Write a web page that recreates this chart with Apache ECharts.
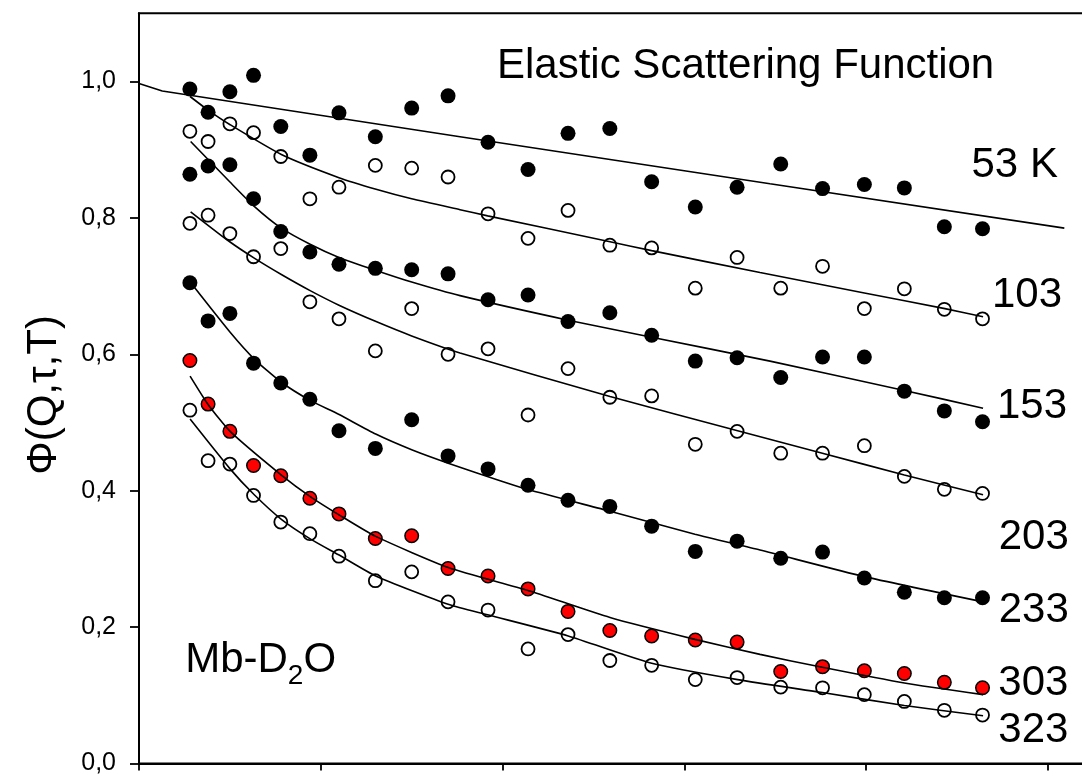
<!DOCTYPE html>
<html>
<head>
<meta charset="utf-8">
<script src="https://cdn.jsdelivr.net/npm/echarts@6/dist/echarts.min.js"></script>
<style>
  html, body { margin: 0; padding: 0; overflow: hidden; background: #ffffff; }
  #chart { width: 1110px; height: 776px; }
</style>
</head>
<body>
<div id="chart"></div>
<script>
// Momentum-transfer grid shared by all temperatures
const qValues = [0.28, 0.38, 0.50, 0.63, 0.78, 0.94, 1.10, 1.30, 1.50, 1.70, 1.92, 2.14,
                 2.36, 2.59, 2.82, 3.06, 3.29, 3.53, 3.76, 3.99, 4.21, 4.43, 4.64];

// Measured elastic scattering function per temperature
const phi53  = [0.989, 0.955, 0.985, 1.009, 0.934, 0.892, 0.954, 0.919, 0.961, 0.979, 0.911, 0.871,
                0.924, 0.931, 0.853, 0.816, 0.845, 0.879, 0.843, 0.849, 0.844, 0.787, 0.784];
const phi103 = [0.927, 0.912, 0.938, 0.925, 0.890, 0.828, 0.845, 0.877, 0.873, 0.860, 0.806, 0.770,
                0.811, 0.760, 0.756, 0.697, 0.742, 0.697, 0.729, 0.667, 0.696, 0.666, 0.652];
const phi153 = [0.864, 0.876, 0.878, 0.828, 0.780, 0.750, 0.732, 0.726, 0.724, 0.718, 0.680, 0.687,
                0.648, 0.661, 0.628, 0.590, 0.595, 0.566, 0.596, 0.596, 0.546, 0.517, 0.501];
const phi203 = [0.792, 0.804, 0.777, 0.743, 0.755, 0.677, 0.652, 0.605, 0.667, 0.600, 0.608, 0.511,
                0.579, 0.537, 0.539, 0.468, 0.487, 0.455, 0.455, 0.466, 0.421, 0.402, 0.396];
const phi233 = [0.705, 0.649, 0.660, 0.587, 0.558, 0.534, 0.488, 0.462, 0.504, 0.451, 0.432, 0.408,
                0.386, 0.377, 0.348, 0.311, 0.326, 0.301, 0.310, 0.272, 0.251, 0.243, 0.243];
const phi303 = [0.591, 0.527, 0.487, 0.437, 0.422, 0.389, 0.366, 0.330, 0.334, 0.286, 0.275, 0.256,
                0.223, 0.195, 0.187, 0.181, 0.178, 0.135, 0.142, 0.136, 0.132, 0.119, 0.111];
const phi323 = [0.518, 0.444, 0.439, 0.393, 0.354, 0.337, 0.304, 0.268, 0.281, 0.237, 0.225, 0.168,
                0.189, 0.151, 0.144, 0.123, 0.126, 0.112, 0.111, 0.101, 0.091, 0.078, 0.071];

// Fitted curves
const fitQ53   = [0, 0.128, 1.766, 3.471, 5.09];
const fitPhi53 = [0.997, 0.986, 0.919, 0.850, 0.785];
const fitQ103   = [0.281, 0.38, 0.499, 0.783, 1.100, 1.304, 1.500, 1.766, 1.918, 2.591, 2.820, 3.416, 3.990, 4.433, 4.643];
const fitPhi103 = [0.978, 0.958, 0.937, 0.893, 0.859, 0.842, 0.828, 0.812, 0.803, 0.765, 0.752, 0.720, 0.690, 0.667, 0.655];
const fitQ153   = [0.284, 0.499, 0.634, 0.783, 0.944, 1.100, 1.304, 1.500, 1.766, 2.361, 2.820, 3.471, 4.210, 4.643];
const fitPhi153 = [0.912, 0.853, 0.817, 0.785, 0.761, 0.742, 0.723, 0.706, 0.686, 0.650, 0.625, 0.590, 0.547, 0.521];
const fitQ203   = [0.284, 0.499, 0.634, 0.783, 0.944, 1.100, 1.304, 1.500, 1.766, 2.591, 3.293, 3.759, 4.210, 4.643];
const fitPhi203 = [0.809, 0.765, 0.741, 0.717, 0.693, 0.672, 0.648, 0.627, 0.602, 0.538, 0.488, 0.455, 0.423, 0.394];
const fitQ233   = [0.299, 0.499, 0.634, 0.783, 0.944, 1.098, 1.302, 1.500, 1.705, 2.136, 2.591, 3.058, 3.416, 3.990, 4.643];
const fitPhi233 = [0.700, 0.633, 0.593, 0.559, 0.532, 0.512, 0.483, 0.460, 0.440, 0.402, 0.370, 0.336, 0.313, 0.274, 0.237];
const fitQ303   = [0.281, 0.381, 0.501, 0.783, 0.944, 1.098, 1.302, 1.705, 2.136, 2.591, 3.058, 3.416, 3.759, 4.210, 4.643];
const fitPhi303 = [0.568, 0.526, 0.487, 0.423, 0.391, 0.365, 0.333, 0.287, 0.254, 0.214, 0.182, 0.160, 0.141, 0.118, 0.101];
const fitQ323   = [0.281, 0.501, 0.634, 0.783, 0.944, 1.098, 1.302, 1.705, 1.918, 2.361, 2.820, 3.293, 3.759, 4.210, 4.643];
const fitPhi323 = [0.505, 0.432, 0.394, 0.358, 0.329, 0.306, 0.275, 0.233, 0.218, 0.187, 0.147, 0.123, 0.104, 0.085, 0.070];

// Axis ticks
const xTicks = [0, 1, 2, 3, 4, 5];
const yTicks = [0, 0.2, 0.4, 0.6, 0.8, 1.0];

// Temperature labels at the right end of each curve
const tempLabels = ['53 K', '103', '153', '203', '233', '303', '323'];

const FONT = '"Liberation Sans", Arial, Helvetica, sans-serif';

function pairs(xs, ys) { return xs.map((x, i) => [x, ys[i]]); }

function pointSeries(values, fill, size, border) {
  return {
    type: 'scatter',
    data: pairs(qValues, values),
    symbol: 'circle',
    symbolSize: size,
    itemStyle: { color: fill, borderColor: '#000', borderWidth: border, opacity: 1 },
    z: 3,
    silent: true
  };
}

function fitSeries(xs, ys, smooth) {
  return {
    type: 'line',
    data: pairs(xs, ys),
    showSymbol: false,
    smooth: smooth,
    lineStyle: { color: '#000', width: 1.6 },
    z: 4,
    silent: true
  };
}

const hollow = 'rgba(0,0,0,0)';

const series = [
  pointSeries(phi53, '#000', 15, 0),
  pointSeries(phi103, hollow, 13, 1.8),
  pointSeries(phi153, '#000', 15, 0),
  pointSeries(phi203, hollow, 13, 1.8),
  pointSeries(phi233, '#000', 15, 0),
  pointSeries(phi303, '#ff0000', 13.5, 1.5),
  pointSeries(phi323, hollow, 13, 1.8),
  fitSeries(fitQ53, fitPhi53, false),
  fitSeries(fitQ103, fitPhi103, 0.2),
  fitSeries(fitQ153, fitPhi153, 0.2),
  fitSeries(fitQ203, fitPhi203, 0.2),
  fitSeries(fitQ233, fitPhi233, 0.2),
  fitSeries(fitQ303, fitPhi303, 0.2),
  fitSeries(fitQ323, fitPhi323, 0.2)
];

// Label anchor positions (left edge, vertical centre of capitals)
const tempLabelPos = [[971.5, 165], [992, 295], [997, 406.7], [998.7, 537.5], [998.7, 610.3], [998.3, 683], [998.3, 730]];

const bigText = (text, x, y, size) => ({
  type: 'text',
  x: x, y: y,
  silent: true,
  style: { text: text, font: size + 'px ' + FONT, fill: '#000', align: 'left', verticalAlign: 'middle' }
});

const graphics = [
  bigText('Elastic Scattering Function', 497, 66.7, 42),
  ...tempLabels.map((t, i) => bigText(t, tempLabelPos[i][0], tempLabelPos[i][1], 42)),
  bigText('Mb-D', 185.2, 660, 42),
  bigText('2', 287.8, 675.8, 28),
  bigText('O', 303.4, 660, 42),
  {
    type: 'text',
    x: 44, y: 395,
    rotation: Math.PI / 2,
    silent: true,
    style: { text: 'Φ(Q,τ,T)', font: '42px ' + FONT, fill: '#000', align: 'center', verticalAlign: 'middle' }
  }
];

const chart = echarts.init(document.getElementById('chart'), null, { renderer: 'canvas' });
chart.setOption({
  animation: false,
  backgroundColor: '#ffffff',
  grid: {
    left: 139, top: 13.3, width: 963.5, height: 756.2,
    show: true, borderColor: '#000', borderWidth: 2, backgroundColor: 'transparent'
  },
  xAxis: {
    type: 'value',
    min: 0, max: 5.3,
    axisLine: { show: true, lineStyle: { color: '#000', width: 2 } },
    axisTick: { show: true, customValues: xTicks, length: 7, lineStyle: { color: '#000', width: 1.8 } },
    axisLabel: { show: false },
    splitLine: { show: false }
  },
  yAxis: {
    type: 'value',
    min: 0, max: 1.1,
    axisLine: { show: true, lineStyle: { color: '#000', width: 2 } },
    axisTick: { show: true, customValues: yTicks, length: 9, lineStyle: { color: '#000', width: 1.8 } },
    axisLabel: {
      show: true, customValues: yTicks, margin: 23,
      fontFamily: FONT, fontSize: 25, color: '#000',
      formatter: v => v.toFixed(1).replace('.', ',')
    },
    splitLine: { show: false }
  },
  series: series,
  graphic: graphics
});
</script>
</body>
</html>
